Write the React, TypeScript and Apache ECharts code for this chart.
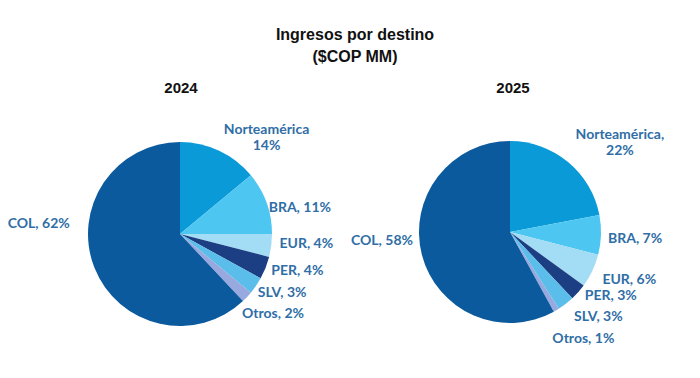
import React, { useEffect, useRef } from "react";
import * as echarts from "echarts";

const titleLines = ["Ingresos por destino", "($COP MM)"];
const years = ["2024", "2025"];
const regions = ["Norteamérica", "BRA", "EUR", "PER", "SLV", "Otros", "COL"];
const values2024 = [14, 11, 4, 4, 3, 2, 62];
const values2025 = [22, 7, 6, 3, 3, 1, 58];
const sliceColors = ["#0a9ad8", "#4dc6f2", "#a3dcf5", "#1b3f82", "#5bbde9", "#98a9e0", "#0c5a9e"];

const labelColor = "#2f6ea6";
const labelFont = "Lato";

// label nudges (layout only), per slice index: [dx, dy]
const nudges2024: [number, number][] = [[-2, -11], [-2, 5], [4, -4], [0, 0], [-7, 4], [-13, 7], [-16, -47]];
const nudges2025: [number, number][] = [[0, -17], [3, 3], [3, 6], [-6, 0], [-6, 3], [-11, 7], [0, -16]];

function makeSeries(values: number[], center: [number, number], radius: number, naSep: string, nudges: [number, number][]) {
  return {
    type: "pie",
    center,
    radius,
    startAngle: 90,
    clockwise: true,
    avoidLabelOverlap: true,
    labelLine: { show: false, length: 4, length2: 0 },
    itemStyle: { borderWidth: 0 },
    emphasis: { disabled: true },
    label: {
      show: true,
      position: "outside",
      color: labelColor,
      fontFamily: labelFont,
      fontWeight: "bold",
      fontSize: 14,
      lineHeight: 16,
      formatter: (p: any) =>
        p.dataIndex === 0
          ? `{c|${p.name}${naSep}}\n{c|${p.value}%}`
          : `${p.name}, ${p.value}%`,
      rich: {
        c: {
          align: "center",
          color: labelColor,
          fontFamily: labelFont,
          fontWeight: "bold",
          fontSize: 14,
          lineHeight: 16,
        },
      },
    },
    labelLayout: (p: any) => ({ dx: nudges[p.dataIndex][0], dy: nudges[p.dataIndex][1] }),
    data: regions.map((name, i) => ({
      name,
      value: values[i],
      itemStyle: { color: sliceColors[i] },
    })),
  };
}

export default function App() {
  const ref = useRef<HTMLDivElement>(null);
  useEffect(() => {
    if (!ref.current) return;
    const chart = echarts.init(ref.current, undefined, { renderer: "svg" });
    chart.setOption({
      animation: false,
      backgroundColor: "#ffffff",
      title: [
        {
          text: titleLines.join("\n"),
          left: 350,
          top: 18,
          textAlign: "center",
          textStyle: {
            fontFamily: "Liberation Sans",
            fontWeight: "bold",
            fontSize: 16,
            lineHeight: 22,
            color: "#111111",
          },
        },
        {
          text: years[0],
          left: 176,
          top: 75,
          textAlign: "center",
          textStyle: { fontFamily: "Liberation Sans", fontWeight: "bold", fontSize: 15, color: "#111111" },
        },
        {
          text: years[1],
          left: 508,
          top: 75,
          textAlign: "center",
          textStyle: { fontFamily: "Liberation Sans", fontWeight: "bold", fontSize: 15, color: "#111111" },
        },
      ],
      series: [
        makeSeries(values2024, [180, 234], 92, "", nudges2024),
        makeSeries(values2025, [510, 232], 91, ",", nudges2025),
      ],
    });
    return () => chart.dispose();
  }, []);
  return <div ref={ref} style={{ position: "fixed", left: 0, top: 0, width: 700, height: 378 }} />;
}
